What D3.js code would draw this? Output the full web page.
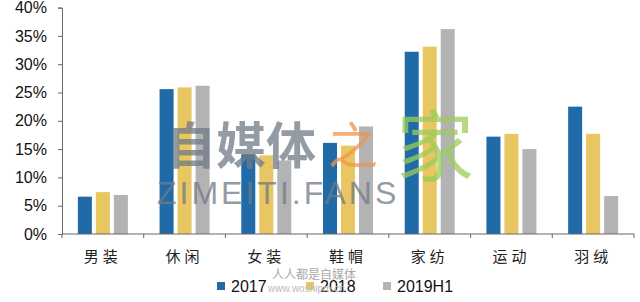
<!DOCTYPE html>
<html>
<head>
<meta charset="utf-8">
<script src="https://cdn.jsdelivr.net/npm/d3@7/dist/d3.min.js"></script>
<style>
  body { margin: 0; background: #fff; }
  svg { display: block; }
</style>
</head>
<body>
<div id="chart"></div>
<script>
// data
var categories = ["男装", "休闲", "女装", "鞋帽", "家纺", "运动", "羽绒"];
var seriesNames = ["2017", "2018", "2019H1"];
var v2017 = [6.6, 25.6, 14.1, 16.1, 32.2, 17.2, 22.5];
var v2018 = [7.4, 25.9, 13.9, 15.6, 33.1, 17.7, 17.7];
var v2019 = [6.9, 26.2, 13.0, 19.0, 36.2, 15.0, 6.7];
var yTicks = [0, 5, 10, 15, 20, 25, 30, 35, 40];

var colors = ["#1f6aa7", "#e8c662", "#b3b3b3"];
var allValues = [v2017, v2018, v2019];

var svgWidth = 640;
var svgHeight = 302;

var svg = d3.select("#chart")
  .append("svg")
  .attr("width", svgWidth)
  .attr("height", svgHeight);

var x = d3.scaleBand()
  .domain(categories)
  .range([62, 634]);

var xSub = d3.scaleBand()
  .domain(seriesNames)
  .range([0, 50])
  .paddingInner(0.222);

var y = d3.scaleLinear()
  .domain([0, 40])
  .range([234, 7.6]);

// bars
var groupOffset = (x.bandwidth() - 50) / 2;
seriesNames.forEach(function(name, i) {
  svg.append("g")
    .selectAll("rect")
    .data(allValues[i])
    .enter()
    .append("rect")
    .attr("x", function(d, j) { return x(categories[j]) + groupOffset + xSub(name); })
    .attr("y", function(d) { return y(d); })
    .attr("width", xSub.bandwidth())
    .attr("height", function(d) { return y(0) - y(d); })
    .attr("fill", colors[i]);
});

// y axis
var leftAxis = d3.axisLeft(y)
  .tickValues(yTicks)
  .tickSize(4)
  .tickPadding(11)
  .tickFormat(function(d) { return d + "%"; });

var yAxisG = svg.append("g")
  .attr("transform", "translate(62,0)")
  .call(leftAxis);
yAxisG.select(".domain").attr("stroke", "#666");
yAxisG.selectAll(".tick line").attr("stroke", "#666");
yAxisG.selectAll("text")
  .attr("fill", "#111")
  .style("font-family", "Liberation Sans, Arial, sans-serif")
  .style("font-size", "16px");

// x axis: ticks at the category boundaries
var xAxisG = svg.append("g");
xAxisG.append("line")
  .attr("x1", 62).attr("x2", 634)
  .attr("y1", y(0)).attr("y2", y(0))
  .attr("stroke", "#666");
var boundaries = categories.map(function(c) { return x(c); }).concat([x.range()[1]]);
xAxisG.selectAll("line.bt")
  .data(boundaries)
  .enter()
  .append("line")
  .attr("class", "bt")
  .attr("x1", function(d) { return d; })
  .attr("x2", function(d) { return d; })
  .attr("y1", y(0))
  .attr("y2", y(0) + 4)
  .attr("stroke", "#666");

xAxisG.selectAll("text")
  .data(categories)
  .enter()
  .append("text")
  .attr("x", function(d) { return x(d) + x.bandwidth() / 2; })
  .attr("y", 262)
  .attr("text-anchor", "middle")
  .style("font-family", "Noto Sans CJK SC, sans-serif")
  .style("font-size", "15px")
  .style("letter-spacing", "4px")
  .attr("fill", "#222")
  .text(function(d) { return d; });

// watermark
var wm = svg.append("g").attr("opacity", 0.75);
wm.append("text")
  .attr("x", 166).attr("y", 164)
  .style("font-family", "Noto Sans CJK SC, sans-serif")
  .style("font-size", "50px")
  .style("font-weight", "bold")
  .attr("fill", "#6f7b88")
  .text("自媒体");
wm.append("text")
  .attr("x", 328).attr("y", 164)
  .style("font-family", "Noto Sans CJK SC, sans-serif")
  .style("font-size", "50px")
  .attr("fill", "#f0954a")
  .text("之");
wm.append("text")
  .attr("x", 396).attr("y", 176)
  .style("font-family", "Noto Sans CJK SC, sans-serif")
  .style("font-size", "78px")
  .attr("fill", "#9bcc5a")
  .text("家");
wm.append("text")
  .attr("x", 157).attr("y", 204)
  .style("font-family", "Liberation Sans, Arial, sans-serif")
  .style("font-size", "32px")
  .style("letter-spacing", "3px")
  .attr("fill", "#6f7b88")
  .text("ZIMEITI.FANS");

svg.append("text")
  .attr("x", 272).attr("y", 279)
  .style("font-family", "Noto Sans CJK SC, sans-serif")
  .style("font-size", "12px")
  .attr("fill", "#aaa")
  .text("人人都是自媒体");

// legend
var legendX = [217, 306, 383];
var legend = svg.append("g");
seriesNames.forEach(function(name, i) {
  legend.append("rect")
    .attr("x", legendX[i]).attr("y", 282)
    .attr("width", 8).attr("height", 8)
    .attr("fill", colors[i]);
  legend.append("text")
    .attr("x", legendX[i] + 14).attr("y", 292)
    .style("font-family", "Liberation Sans, Arial, sans-serif")
    .style("font-size", "16px")
    .attr("fill", "#111")
    .text(name);
});

svg.append("text")
  .attr("x", 268).attr("y", 292)
  .style("font-family", "Liberation Sans, Arial, sans-serif")
  .style("font-size", "10px")
  .attr("fill", "#bbb")
  .text("www.woshipm.cn");
</script>
</body>
</html>
